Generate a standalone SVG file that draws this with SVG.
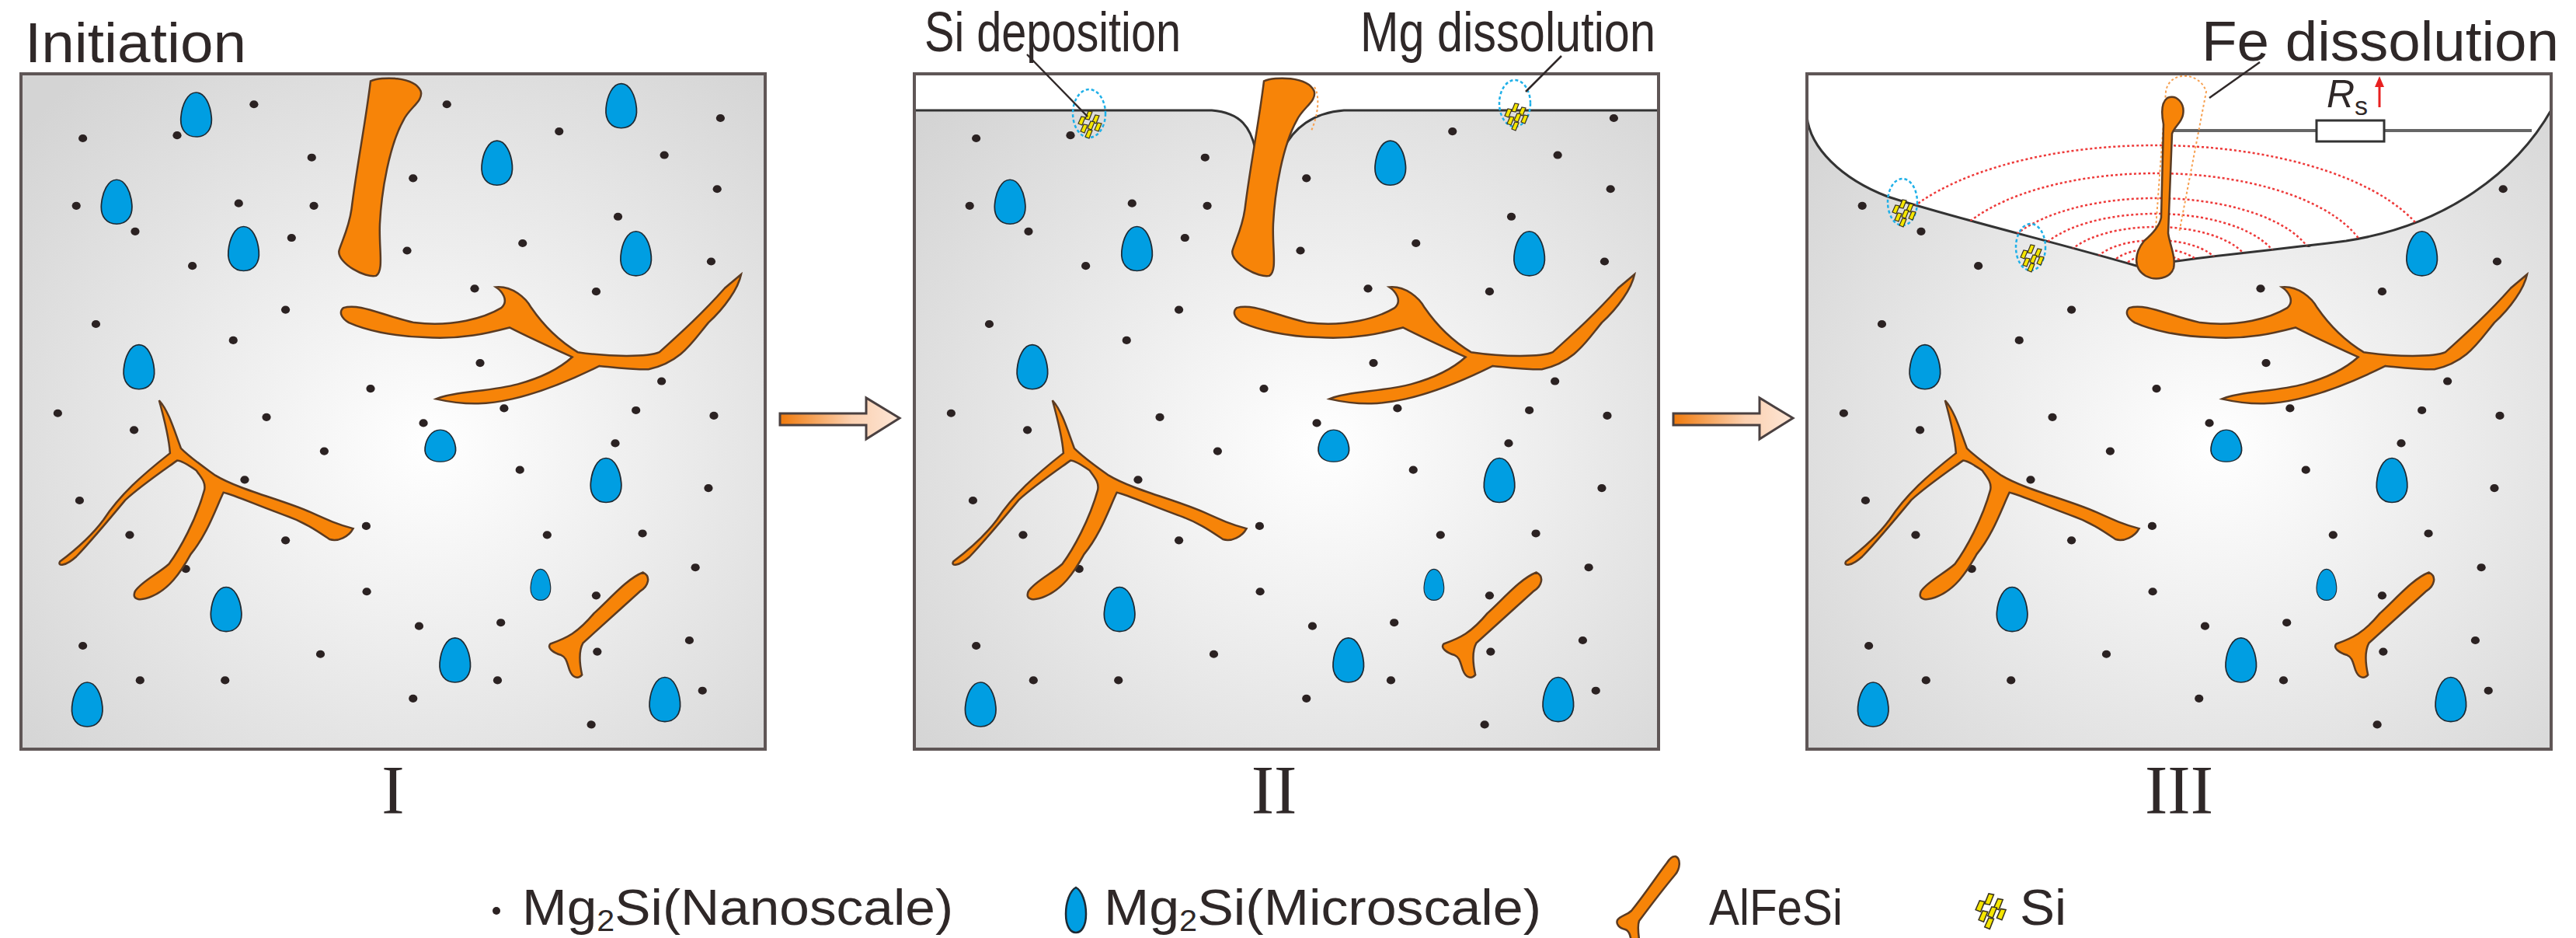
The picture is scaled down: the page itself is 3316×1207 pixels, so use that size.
<svg xmlns="http://www.w3.org/2000/svg" xmlns:xlink="http://www.w3.org/1999/xlink" width="3316" height="1207" viewBox="0 0 3316 1207">
<style>
.box{stroke:#5f5656;stroke-width:4}
.dot{fill:#2b2222}
.drop{fill:#009ee2;stroke:#1e2a33;stroke-width:2.5;vector-effect:non-scaling-stroke}
.fe{fill:#f78408;stroke:#5b3b22;stroke-width:2.5;vector-effect:non-scaling-stroke}
.lbl{font-family:"Liberation Sans",Arial,sans-serif;fill:#2f2828}
.rom{font-family:"Liberation Serif","Times New Roman",serif;fill:#2f2828;font-size:88px}
.lead{stroke:#2f2828;stroke-width:2.5;fill:none}
.ring{fill:none;stroke:#1fb0e8;stroke-width:2.5;stroke-dasharray:4 3}
.sib{fill:#f5e600;stroke:#3a3320;stroke-width:1.2}
.arc{fill:none;stroke:#ee3a3a;stroke-width:2.5;stroke-dasharray:3 3}
.arrow{fill:url(#ag);stroke:#4a4040;stroke-width:3}
</style>
<defs>
<radialGradient id="bg" cx="0.55" cy="0.55" r="0.72">
<stop offset="0" stop-color="#ffffff"/><stop offset="1" stop-color="#d4d4d4"/>
</radialGradient>
<linearGradient id="ag" x1="0" y1="0" x2="1" y2="0">
<stop offset="0" stop-color="#f07a0c"/><stop offset="0.6" stop-color="#fbd0b0"/><stop offset="1" stop-color="#fde6d6"/>
</linearGradient>
<path id="dr" d="M0,-45 C16,-45 26,-20 28,5 C30,30 18,45 0,45 C-18,45 -30,30 -28,5 C-26,-20 -16,-45 0,-45 Z"/>
<g id="si">
<path class="sib" d="M-13,-1 l4,-9 l5,1 l-4,10 z"/>
<path class="sib" d="M-4,-7 l4,-10 l5,1 l-4,10 z"/>
<path class="sib" d="M5,-3 l4,-9 l5,1 l-4,10 z"/>
<path class="sib" d="M-10,9 l4,-9 l5,1 l-4,10 z"/>
<path class="sib" d="M-1,5 l4,-9 l5,1 l-4,10 z"/>
<path class="sib" d="M8,7 l4,-9 l5,1 l-4,10 z"/>
<path class="sib" d="M-4,16 l4,-9 l5,1 l-4,10 z"/>
</g>
<g id="common">
<g class="dot">
<circle cx="466" cy="207" r="8"/><circle cx="820" cy="207" r="8"/><circle cx="152" cy="276" r="8"/><circle cx="325" cy="270" r="8"/><circle cx="1026" cy="262" r="8"/><circle cx="1322" cy="235" r="8"/><circle cx="1219" cy="310" r="8"/><circle cx="572" cy="315" r="8"/><circle cx="758" cy="357" r="8"/><circle cx="1316" cy="379" r="8"/><circle cx="140" cy="413" r="8"/><circle cx="438" cy="408" r="8"/><circle cx="576" cy="413" r="8"/><circle cx="1134" cy="435" r="8"/><circle cx="248" cy="465" r="8"/><circle cx="535" cy="478" r="8"/><circle cx="959" cy="489" r="8"/><circle cx="747" cy="504" r="8"/><circle cx="1305" cy="526" r="8"/><circle cx="353" cy="535" r="8"/><circle cx="871" cy="581" r="8"/><circle cx="1094" cy="587" r="8"/><circle cx="524" cy="624" r="8"/><circle cx="176" cy="653" r="8"/><circle cx="428" cy="686" r="8"/><circle cx="881" cy="732" r="8"/><circle cx="680" cy="784" r="8"/><circle cx="1214" cy="769" r="8"/><circle cx="925" cy="824" r="8"/><circle cx="1167" cy="828" r="8"/><circle cx="106" cy="834" r="8"/><circle cx="1310" cy="839" r="8"/><circle cx="489" cy="842" r="8"/><circle cx="777" cy="854" r="8"/><circle cx="246" cy="868" r="8"/><circle cx="1129" cy="895" r="8"/><circle cx="595" cy="911" r="8"/><circle cx="954" cy="949" r="8"/><circle cx="449" cy="969" r="8"/><circle cx="146" cy="1011" r="8"/><circle cx="1300" cy="986" r="8"/><circle cx="672" cy="1063" r="8"/><circle cx="238" cy="1081" r="8"/><circle cx="524" cy="1092" r="8"/><circle cx="1004" cy="1081" r="8"/><circle cx="1179" cy="1078" r="8"/><circle cx="341" cy="1150" r="8"/><circle cx="1276" cy="1147" r="8"/><circle cx="673" cy="1196" r="8"/><circle cx="1094" cy="1204" r="8"/><circle cx="769" cy="1266" r="8"/><circle cx="919" cy="1259" r="8"/><circle cx="152" cy="1306" r="8"/><circle cx="588" cy="1323" r="8"/><circle cx="1265" cy="1295" r="8"/><circle cx="1096" cy="1318" r="8"/><circle cx="257" cy="1376" r="8"/><circle cx="413" cy="1376" r="8"/><circle cx="913" cy="1376" r="8"/><circle cx="1289" cy="1397" r="8"/><circle cx="758" cy="1413" r="8"/><circle cx="1085" cy="1466" r="8"/>
</g>
<use href="#dr" class="drop" transform="translate(912,326)"/>
<use href="#dr" class="drop" transform="translate(1167,510)"/>
<use href="#dr" class="drop" transform="translate(255,740)"/>
<use href="#dr" class="drop" transform="translate(808,900) scale(1,0.72)"/>
<use href="#dr" class="drop" transform="translate(1112,970)"/>
<use href="#dr" class="drop" transform="translate(415,1232)"/>
<use href="#dr" class="drop" transform="translate(992,1182) scale(0.65,0.7)"/>
<use href="#dr" class="drop" transform="translate(835,1335)"/>
<use href="#dr" class="drop" transform="translate(160,1425)"/>
<use href="#dr" class="drop" transform="translate(1220,1415)"/>
<path class="fe" d="M630,620 C660,610 700,635 760,650 C830,660 890,640 920,620 C935,605 920,585 910,578 C940,575 965,600 975,620 C1000,660 1030,690 1060,710 C1120,720 1190,720 1210,710 C1250,670 1290,630 1330,580 L1360,552 C1355,580 1330,620 1300,650 C1270,690 1250,730 1190,745 C1150,745 1120,740 1100,738 C1060,760 1000,790 940,805 C900,815 860,820 800,805 C830,790 900,790 950,775 C1000,760 1030,740 1050,720 C1010,700 970,680 935,660 C900,670 850,685 780,680 C720,678 670,665 640,650 C625,640 622,628 630,620 Z"/>
<path class="fe" d="M292,808 C310,830 320,870 332,905 C350,925 370,940 395,960 C440,990 520,1010 570,1035 C600,1050 620,1060 648,1068 C640,1085 620,1095 605,1090 C585,1075 560,1055 520,1040 C470,1020 430,1000 410,995 C395,1030 380,1080 350,1120 C330,1160 310,1190 280,1205 C260,1215 240,1215 248,1195 C260,1175 290,1160 310,1140 C330,1110 360,1050 375,990 C378,975 370,965 360,950 C340,935 330,930 325,930 C300,950 260,980 230,1010 C200,1050 170,1090 140,1125 C120,1145 105,1145 110,1135 C140,1110 170,1080 190,1050 C220,1000 260,960 312,915 C310,880 300,840 292,808 Z"/>
<path class="fe" d="M1180,1157 C1195,1165 1190,1185 1175,1195 C1140,1230 1100,1270 1070,1300 C1060,1320 1065,1350 1068,1365 C1060,1375 1050,1370 1045,1355 C1040,1340 1040,1330 1030,1325 C1015,1320 1003,1310 1010,1302 C1040,1290 1060,1280 1090,1240 C1120,1210 1150,1170 1180,1157 Z"/>
</g>
<path id="rod" class="fe" d="M680,160 C700,150 760,150 772,180 C778,200 750,215 740,240 C715,290 700,380 697,450 C695,500 705,545 690,555 C670,560 620,530 622,505 C625,490 640,460 645,420 C655,330 670,250 680,160 Z"/>
<clipPath id="bowl"><path d="M2326,93 H3285 V140 C3240,220 3150,290 3020,310 C2900,325 2820,332 2790,338 L2750,342 C2640,310 2520,282 2430,253 C2370,230 2330,190 2326,150 Z"/></clipPath>
</defs>

<g id="labels" class="lbl">
<text x="32" y="80" font-size="72" textLength="285" lengthAdjust="spacingAndGlyphs">Initiation</text>
<text x="1190" y="66" font-size="72" textLength="330" lengthAdjust="spacingAndGlyphs">Si deposition</text>
<text x="1751" y="66" font-size="72" textLength="380" lengthAdjust="spacingAndGlyphs">Mg dissolution</text>
<text x="2834" y="78" font-size="72" textLength="460" lengthAdjust="spacingAndGlyphs">Fe dissolution</text>
</g>

<g id="panel1">
<rect class="box" x="27" y="95" width="958" height="869" fill="url(#bg)"/>
<g transform="translate(0,3) scale(0.7015,0.634)">
<use href="#common"/>
<use href="#dr" class="drop" transform="translate(360,228)"/>
<use href="#dr" class="drop" transform="translate(1140,210)"/>
<use href="#dr" class="drop" transform="translate(214,405)"/>
<use href="#dr" class="drop" transform="translate(447,500)"/>
<use href="#rod"/>
</g>
<text class="rom" x="506" y="1046" text-anchor="middle">I</text>
</g>

<g id="panel2">
<rect class="box" x="1177" y="95" width="958" height="869" fill="url(#bg)"/>
<g transform="translate(1150,3) scale(0.7015,0.634)">
<use href="#common"/>
<use href="#dr" class="drop" transform="translate(214,405)"/>
<use href="#dr" class="drop" transform="translate(447,500)"/>
</g>
<path d="M1179,97 H2133 V142 H1730 C1690,145 1665,165 1652,192 L1616,192 C1610,165 1598,145 1560,142 H1179 Z" fill="#fff"/>
<path d="M1177,142 H1560 C1598,145 1610,165 1616,192 M1652,192 C1665,165 1690,145 1730,142 H2135" fill="none" stroke="#333" stroke-width="3"/>
<rect class="box" x="1177" y="95" width="958" height="869" fill="none"/>
<g transform="translate(1150,3) scale(0.7015,0.634)"><use href="#rod"/></g>
<path d="M1692,112 C1700,125 1696,150 1688,168" fill="none" stroke="#f7a050" stroke-width="2" stroke-dasharray="3 3"/>
<ellipse class="ring" cx="1402" cy="146" rx="21" ry="31"/>
<use href="#si" transform="translate(1401,160)"/>
<ellipse class="ring" cx="1950" cy="133" rx="20" ry="30"/>
<use href="#si" transform="translate(1950,150)"/>
<text class="rom" x="1640" y="1046" text-anchor="middle">II</text>
</g>

<g id="panel3">
<rect class="box" x="2326" y="95" width="958" height="869" fill="url(#bg)"/>
<g transform="translate(2299,3) scale(0.7015,0.634)">
<use href="#common"/>
</g>
<path d="M2326,93 H3285 V140 C3240,220 3150,290 3020,310 C2900,325 2820,332 2790,338 L2750,342 C2640,310 2520,282 2430,253 C2370,230 2330,190 2326,150 Z" fill="#fff"/>
<path d="M3285,140 C3240,220 3150,290 3020,310 C2900,325 2820,332 2790,338 L2750,342 C2640,310 2520,282 2430,253 C2370,230 2330,190 2326,150" fill="none" stroke="#333" stroke-width="3"/>
<rect class="box" x="2326" y="95" width="958" height="869" fill="none"/>
<g clip-path="url(#bowl)">
<ellipse class="arc" cx="2775" cy="345" rx="360" ry="158"/>
<ellipse class="arc" cx="2775" cy="345" rx="275" ry="122"/>
<ellipse class="arc" cx="2775" cy="345" rx="205" ry="90"/>
<ellipse class="arc" cx="2775" cy="345" rx="159" ry="70"/>
<ellipse class="arc" cx="2775" cy="345" rx="121" ry="53"/>
<ellipse class="arc" cx="2775" cy="345" rx="82" ry="36"/>
<ellipse class="arc" cx="2775" cy="345" rx="58" ry="25"/>
<ellipse class="arc" cx="2775" cy="345" rx="40" ry="17"/>
</g>
<line x1="2792" y1="168" x2="3259" y2="168" stroke="#666" stroke-width="4"/>
<rect x="2982" y="155" width="87" height="27" fill="#fff" stroke="#333" stroke-width="3"/>
<text class="lbl" x="2995" y="138" font-size="50" font-style="italic">R<tspan font-size="34" dy="10" font-style="normal">s</tspan></text>
<line x1="3063" y1="138" x2="3063" y2="110" stroke="#e82020" stroke-width="3"/>
<path d="M3057,112 L3063,98 L3069,112 Z" fill="#e82020"/>
<path d="M2772,335 L2788,118 C2792,90 2832,92 2840,118 L2805,300" fill="none" stroke="#f7a050" stroke-width="2" stroke-dasharray="3 3"/>
<path class="fe" d="M2790,126 C2802,121 2813,133 2810,148 C2808,158 2799,163 2796,172 L2791,300 C2793,315 2801,330 2798,345 C2794,358 2775,362 2762,355 C2745,345 2748,325 2760,310 C2772,300 2780,290 2782,280 L2785,160 C2782,145 2782,132 2790,126 Z"/>
<ellipse class="ring" cx="2449" cy="260" rx="19" ry="30"/>
<use href="#si" transform="translate(2449,274)"/>
<ellipse class="ring" cx="2614" cy="318" rx="19" ry="30"/>
<use href="#si" transform="translate(2614,332)"/>
<text class="rom" x="2805" y="1046" text-anchor="middle">III</text>
</g>

<g id="connectors">
<line class="lead" x1="1322" y1="70" x2="1400" y2="150"/>
<line class="lead" x1="2010" y1="72" x2="1964" y2="118"/>
<line class="lead" x1="2909" y1="80" x2="2844" y2="126"/>
<path class="arrow" d="M1004,532 H1115 V512 L1158,538 L1115,565 V547 H1004 Z"/>
<path class="arrow" d="M2154,532 H2265 V512 L2308,538 L2265,565 V547 H2154 Z"/>
</g>

<g id="legend">
<circle class="dot" cx="639" cy="1172" r="5"/>
<text class="lbl" x="672" y="1190" font-size="64" textLength="555" lengthAdjust="spacingAndGlyphs">Mg<tspan font-size="38" dy="8">2</tspan><tspan dy="-8">Si(Nanoscale)</tspan></text>
<path class="drop" d="M1385,1142 C1393,1146 1398,1162 1398,1176 C1398,1192 1392,1200 1385,1200 C1378,1200 1372,1192 1372,1176 C1372,1162 1377,1146 1385,1142 Z"/>
<text class="lbl" x="1421" y="1190" font-size="64" textLength="563" lengthAdjust="spacingAndGlyphs">Mg<tspan font-size="38" dy="8">2</tspan><tspan dy="-8">Si(Microscale)</tspan></text>
<path class="fe" d="M2157,1102 C2164,1105 2163,1118 2156,1126 C2140,1145 2125,1165 2110,1185 C2106,1195 2112,1212 2111,1224 C2107,1228 2102,1226 2101,1218 C2099,1205 2098,1198 2092,1196 C2084,1194 2080,1189 2082,1184 C2086,1178 2094,1178 2100,1172 C2118,1150 2132,1128 2146,1110 C2149,1105 2152,1101 2157,1102 Z"/>
<text class="lbl" x="2200" y="1190" font-size="64" textLength="172" lengthAdjust="spacingAndGlyphs">AlFeSi</text>
<use href="#si" transform="translate(2560,1172) scale(1.3)"/>
<text class="lbl" x="2600" y="1190" font-size="64" textLength="60" lengthAdjust="spacingAndGlyphs">Si</text>
</g>
</svg>
